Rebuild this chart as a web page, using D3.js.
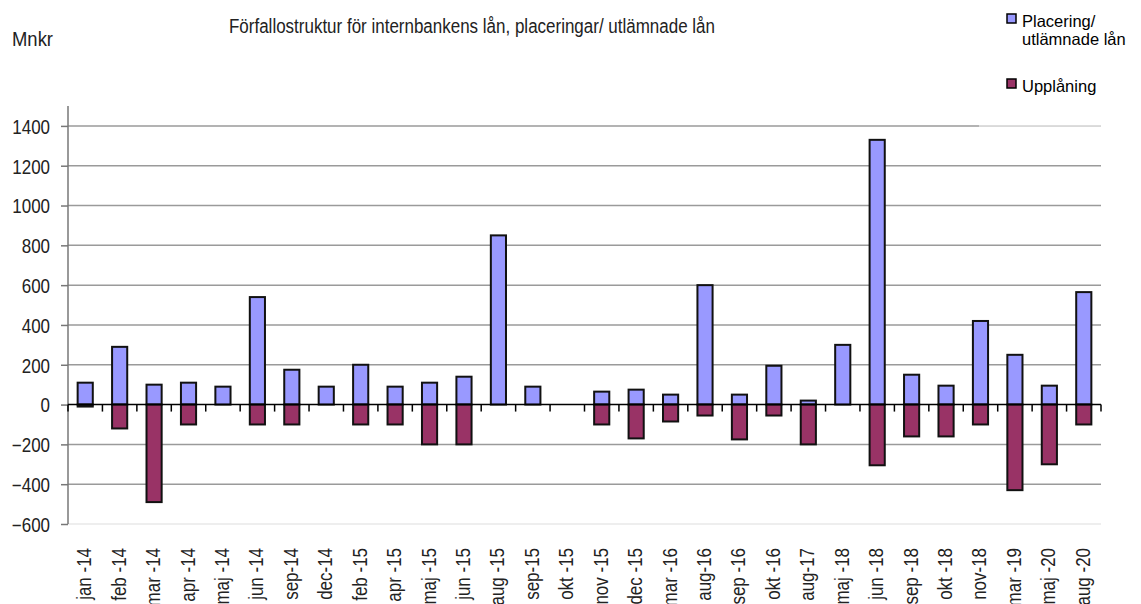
<!DOCTYPE html>
<html>
<head>
<meta charset="utf-8">
<script src="https://cdn.jsdelivr.net/npm/d3@7"></script>
<style>
  body { margin: 0; background: #fff; }
  svg { display: block; font-family: "Liberation Sans", Arial, sans-serif; }
</style>
</head>
<body>
<svg id="chart" width="1141" height="604"></svg>
<script>
// förfallodatum
const categories = ["jan -14", "feb -14", "mar -14", "apr -14", "maj -14", "jun -14", "sep-14", "dec-14",
  "feb -15", "apr -15", "maj -15", "jun -15", "aug -15", "sep-15", "okt -15", "nov -15", "dec -15",
  "mar -16", "aug-16", "sep -16", "okt -16", "aug-17", "maj -18", "jun -18", "sep -18", "okt -18",
  "nov-18", "mar -19", "maj -20", "aug -20"];
// Placering/ utlämnade lån (Mnkr)
const placering = [110, 290, 100, 110, 90, 540, 175, 90, 200, 90, 110, 140, 850, 90, 0, 65, 75,
  50, 600, 50, 195, 20, 300, 1330, 150, 95, 420, 250, 95, 565];
// Upplåning (Mnkr)
const upplaning = [-10, -120, -490, -100, 0, -100, -100, 0, -100, -100, -200, -200, 0, 0, 0, -100, -170,
  -85, -55, -175, -55, -200, 0, -305, -160, -160, -100, -430, -300, -100];
const yTicks = [-600, -400, -200, 0, 200, 400, 600, 800, 1000, 1200, 1400];

const svg = d3.select("#chart");
const pLeft = 68, pRight = 1101, pTop = 106, pBottom = 524;
const narrow = 0.87; // arial narrow-ish

const x = d3.scaleBand().domain(categories).range([pLeft, pRight]).padding(0);
const y = d3.scaleLinear().domain([-600, 1500]).range([pBottom, pTop]);
const barW = x.bandwidth() * 0.44;

// gridlines
svg.append("g")
  .selectAll("line")
  .data(yTicks.filter(d => d !== 0))
  .join("line")
  .attr("x1", pLeft).attr("x2", pRight)
  .attr("y1", d => y(d)).attr("y2", d => y(d))
  .attr("stroke", d => d === -600 ? "#e8e8e8" : "#9a9a9a")
  .attr("stroke-width", 1.5);

// y axis
const yAxis = svg.append("g")
  .attr("transform", `translate(${pLeft},0)`)
  .call(d3.axisLeft(y).tickValues(yTicks).tickSize(7).tickFormat(d3.format("d")));
yAxis.select(".domain").attr("stroke", "#777").attr("stroke-width", 1.5)
  .attr("d", `M0,${pTop}V${pBottom}`);
yAxis.selectAll(".tick line").attr("stroke", "#777").attr("stroke-width", 1.5);
yAxis.selectAll("text")
  .attr("font-family", "'Liberation Sans', Arial, sans-serif")
  .attr("font-size", 19.5).attr("fill", "#222")
  .attr("x", -18 / narrow).attr("dy", "0.38em")
  .attr("transform", `scale(${narrow},1)`);

// bars
const idx = d => categories.indexOf(d);
const plot = svg.append("g");
plot.selectAll(".pos")
  .data(categories.filter(d => placering[idx(d)] !== 0))
  .join("rect")
  .attr("class", "pos")
  .attr("x", d => x(d) + (x.bandwidth() - barW) / 2)
  .attr("width", barW)
  .attr("y", d => y(placering[idx(d)]))
  .attr("height", d => y(0) - y(placering[idx(d)]))
  .attr("fill", "#9999ff")
  .attr("stroke", "#111")
  .attr("stroke-width", 2);

plot.selectAll(".neg")
  .data(categories.filter(d => upplaning[idx(d)] !== 0))
  .join("rect")
  .attr("class", "neg")
  .attr("x", d => x(d) + (x.bandwidth() - barW) / 2)
  .attr("width", barW)
  .attr("y", y(0))
  .attr("height", d => y(upplaning[idx(d)]) - y(0))
  .attr("fill", "#993366")
  .attr("stroke", "#111")
  .attr("stroke-width", 2);

// x axis at zero
const xAxis = svg.append("g")
  .attr("transform", `translate(0,${y(0)})`)
  .call(d3.axisBottom(x).tickSize(0).tickFormat(""));
xAxis.select(".domain").attr("stroke", "#000").attr("stroke-width", 1.5)
  .attr("d", `M${pLeft},0H${pRight}`);
xAxis.append("g")
  .selectAll("line")
  .data(categories.map(c => x(c)).concat([pRight]))
  .join("line")
  .attr("x1", d => d).attr("x2", d => d)
  .attr("y1", 0).attr("y2", 7)
  .attr("stroke", "#000").attr("stroke-width", 1.5);

// category labels (cut at the bottom edge as in the original)
svg.append("g")
  .selectAll("text")
  .data(categories)
  .join("text")
  .attr("transform", d => `translate(${x(d) + x.bandwidth() / 2 + 6},548) rotate(-90) scale(${narrow},1)`)
  .attr("text-anchor", "end")
  .attr("font-size", 19.5)
  .attr("fill", "#222")
  .text(d => d);

// titles
svg.append("text")
  .attr("x", 229).attr("y", 33).attr("font-size", 20).attr("fill", "#222")
  .attr("textLength", 486).attr("lengthAdjust", "spacingAndGlyphs")
  .text("Förfallostruktur för internbankens lån, placeringar/ utlämnade lån");
svg.append("text")
  .attr("x", 12).attr("y", 46).attr("font-size", 21).attr("fill", "#222")
  .attr("textLength", 41).attr("lengthAdjust", "spacingAndGlyphs")
  .text("Mnkr");

// legend
svg.append("rect").attr("x", 979).attr("y", 0).attr("width", 162).attr("height", y(1400) + 1)
  .attr("fill", "#fff").attr("opacity", 0.55);
const legend = svg.append("g").attr("font-size", 16.5).attr("fill", "#000");
legend.append("rect").attr("x", 1007).attr("y", 14).attr("width", 9).attr("height", 9)
  .attr("fill", "#9999ff").attr("stroke", "#000").attr("stroke-width", 1.5);
legend.append("text").attr("x", 1022).attr("y", 27).text("Placering/");
legend.append("text").attr("x", 1022).attr("y", 45).text("utlämnade lån");
legend.append("rect").attr("x", 1007).attr("y", 79).attr("width", 9).attr("height", 9)
  .attr("fill", "#993366").attr("stroke", "#000").attr("stroke-width", 1.5);
legend.append("text").attr("x", 1022).attr("y", 92).text("Upplåning");
</script>
</body>
</html>
